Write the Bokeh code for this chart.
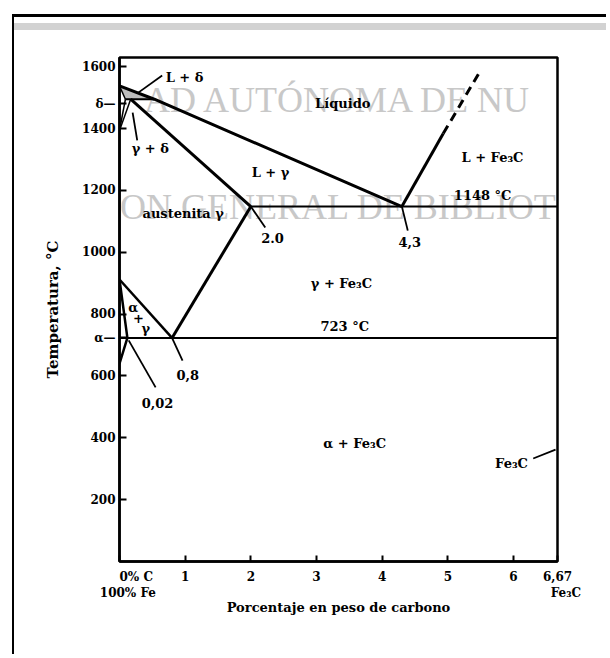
from bokeh.plotting import figure
from bokeh.models import FixedTicker, ColumnDataSource
from bokeh.core.properties import value
from bokeh.embed import file_html
from bokeh.resources import INLINE

# ---------------- data (wt% C, temperature °C) ----------------
carbon_ticks = [0, 1, 2, 3, 4, 5, 6, 6.67]
carbon_tick_labels = {0: "\u2007\u2007\u2007\u20070% C\n\u2007\u2007100% Fe",
                      6.67: "6,67\n\u2007\u2007Fe₃C"}
temp_ticks = [200, 400, 600, 723, 800, 1000, 1200, 1400, 1480, 1600]
temp_tick_labels = {723: "α—", 1480: "δ—"}

liquidus_c = [0.0, 0.53, 4.3]
liquidus_t = [1538, 1495, 1148]
cementite_liq_c = [4.3, 4.93]
cementite_liq_t = [1148, 1384]
cementite_liq_dash_c = [4.93, 5.47]
cementite_liq_dash_t = [1384, 1578]
peritectic_c = [0.09, 0.53]
peritectic_t = [1495, 1495]
delta_solidus_c = [0.0, 0.09]
delta_solidus_t = [1538, 1495]
delta_solvus_c = [0.09, 0.0]
delta_solvus_t = [1495, 1394]
gamma_delta_c = [0.17, 0.0]
gamma_delta_t = [1495, 1394]
gamma_solidus_c = [0.17, 2.0]
gamma_solidus_t = [1495, 1148]
eutectic_c = [2.0, 6.67]
eutectic_t = [1148, 1148]
acm_c = [2.0, 0.8]
acm_t = [1148, 723]
a3_c = [0.0, 0.8]
a3_t = [912, 723]
alpha_c = [0.0, 0.12, 0.0]
alpha_t = [912, 723, 640]
eutectoid_c = [0.0, 6.67]
eutectoid_t = [723, 723]
l_delta_region_c = [0.0, 0.09, 0.53]
l_delta_region_t = [1538, 1495, 1495]

region_text = ["Líquido", "L + γ", "L + Fe₃C", "1148 °C", "austenita γ",
               "γ + Fe₃C", "723 °C", "α + Fe₃C", "Fe₃C", "α", "+", "γ",
               "0,02", "0,8", "2.0", "4,3", "L + δ", "γ + δ"]
region_c = [3.40, 2.30, 5.68, 5.53, 0.97, 3.38, 3.43, 3.58, 5.97, 0.21, 0.29, 0.40,
            0.58, 1.04, 2.33, 4.42, 0.99, 0.47]
region_t = [1481, 1258, 1307, 1184, 1125, 899, 760, 382, 317, 821, 786, 754,
            514, 602, 1045, 1032, 1565, 1336]

leader_c = [[6.30, 6.64], [0.14, 0.55], [0.80, 0.96], [2.0, 2.22], [4.3, 4.39],
            [0.65, 0.27], [0.27, 0.20]]
leader_t = [[333, 362], [715, 563], [723, 650], [1148, 1080], [1148, 1070],
            [1572, 1514], [1362, 1452]]

watermark_text = ["AD AUTÓNOMA DE NU", "ON GENERAL DE BIBLIOT"]
watermark_c = [3.335, 3.335]
watermark_t = [1491, 1148]

FONT = value("DejaVu Serif")

p = figure(width=594, height=640, x_range=(0, 6.67), y_range=(0, 1630),
           output_backend="svg", toolbar_location=None,
           min_border_left=105, min_border_right=51, min_border_top=40,
           min_border_bottom=96)
p.margin = (14, 0, 0, 12)
p.styles = {
    "border-top": "3px solid black",
    "border-left": "2px solid black",
    "background-image": "linear-gradient(to bottom, #ffffff 0px, #ffffff 6px, #d2d2d2 6px, "
                        "#d2d2d2 13px, #ffffff 13px, #ffffff 100%)",
}
p.grid.visible = False
p.outline_line_color = "black"
p.outline_line_width = 2.5
p.background_fill_color = "white"
p.border_fill_color = None

# watermark of the scan
wm = ColumnDataSource(dict(x=watermark_c, y=watermark_t, text=watermark_text))
p.text(x="x", y="y", text="text", source=wm, text_font=value("Liberation Serif"),
       text_font_size="36px", text_color="#c8c8c8", text_align="center",
       text_baseline="alphabetic")

# L + delta shaded region
p.patch(l_delta_region_c, l_delta_region_t, fill_color="#bdbdbd", line_alpha=0)

# phase boundaries
p.line(liquidus_c, liquidus_t, line_color="black", line_width=3)
p.line(cementite_liq_c, cementite_liq_t, line_color="black", line_width=3)
p.line(cementite_liq_dash_c, cementite_liq_dash_t, line_color="black", line_width=3,
       line_dash="9 6")
p.line(peritectic_c, peritectic_t, line_color="black", line_width=2)
p.line(delta_solidus_c, delta_solidus_t, line_color="black", line_width=1.5)
p.line(delta_solvus_c, delta_solvus_t, line_color="black", line_width=1.5)
p.line(gamma_delta_c, gamma_delta_t, line_color="black", line_width=1.5)
p.line(gamma_solidus_c, gamma_solidus_t, line_color="black", line_width=3)
p.line(eutectic_c, eutectic_t, line_color="black", line_width=2)
p.line(acm_c, acm_t, line_color="black", line_width=3)
p.line(a3_c, a3_t, line_color="black", line_width=2.5)
p.line(alpha_c, alpha_t, line_color="black", line_width=2.5)
p.line(eutectoid_c, eutectoid_t, line_color="black", line_width=2)

# leader lines
p.multi_line(leader_c, leader_t, line_color="black", line_width=1.8)

# region labels
src = ColumnDataSource(dict(x=region_c, y=region_t, text=region_text))
p.text(x="x", y="y", text="text", source=src, text_font=FONT, text_font_style="bold",
       text_font_size="13px", text_color="black", text_align="center",
       text_baseline="middle")

# axes
xa = p.xaxis[0]
xa.ticker = FixedTicker(ticks=carbon_ticks)
xa.major_label_overrides = carbon_tick_labels
xa.minor_tick_line_color = None
xa.major_tick_in = 6
xa.major_tick_out = 0
xa.major_tick_line_width = 2
xa.axis_line_width = 2.5
xa.major_label_standoff = 8
xa.major_label_text_font = "DejaVu Serif"
xa.major_label_text_font_style = "bold"
xa.major_label_text_font_size = "12px"
xa.major_label_text_color = "black"
xa.axis_label = "Porcentaje en peso de carbono"
xa.axis_label_text_font = "DejaVu Serif"
xa.axis_label_text_font_style = "bold"
xa.axis_label_text_font_size = "13px"
xa.axis_label_text_color = "black"
xa.axis_label_standoff = -3

ya = p.yaxis[0]
ya.ticker = FixedTicker(ticks=temp_ticks)
ya.major_label_overrides = temp_tick_labels
ya.minor_tick_line_color = None
ya.major_tick_in = 7
ya.major_tick_out = 0
ya.major_tick_line_width = 2
ya.axis_line_width = 2.5
ya.major_label_standoff = 4
ya.major_label_text_font = "DejaVu Serif"
ya.major_label_text_font_style = "bold"
ya.major_label_text_font_size = "12px"
ya.major_label_text_color = "black"
ya.axis_label = "Temperatura, °C"
ya.axis_label_text_font = "DejaVu Serif"
ya.axis_label_text_font_style = "bold"
ya.axis_label_text_font_size = "15px"
ya.axis_label_text_color = "black"
ya.axis_label_standoff = 17

open("out.html", "w").write(file_html(p, INLINE))
